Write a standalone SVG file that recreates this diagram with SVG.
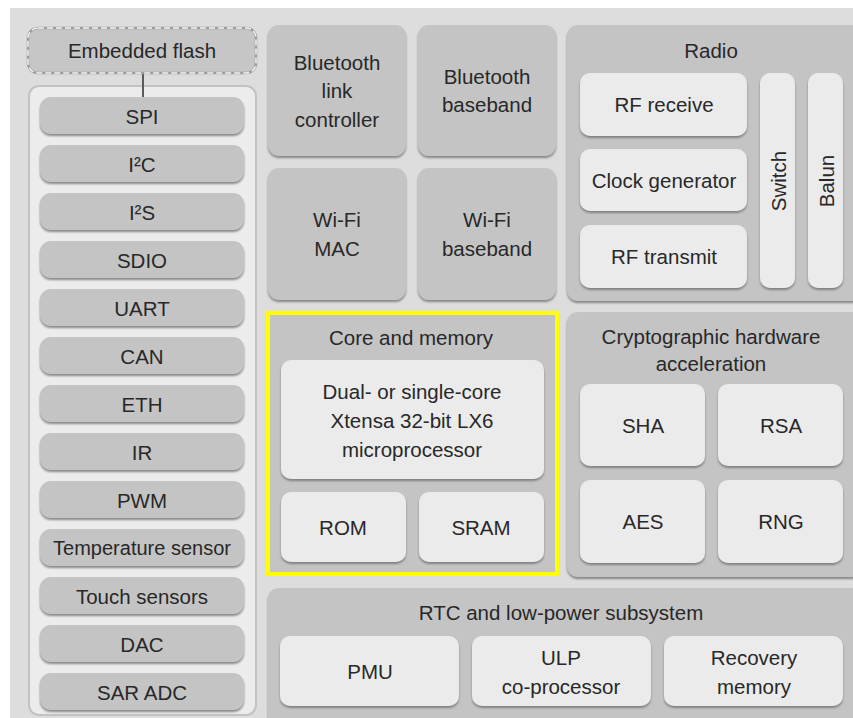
<svg xmlns="http://www.w3.org/2000/svg" width="853" height="718" viewBox="0 0 853 718">
  <defs>
    <filter id="sh" x="-10%" y="-10%" width="120%" height="130%">
      <feDropShadow dx="0" dy="2" stdDeviation="1" flood-color="#6e6e6e" flood-opacity="0.8"/>
    </filter>
  </defs>
  <style>
    text { font-family: "Liberation Sans", Arial, sans-serif; font-size: 20.5px; fill: #282828; text-anchor: middle; dominant-baseline: central; }
    .panel { fill: #c4c4c4; filter: url(#sh); }
    .box { fill: #ebebeb; filter: url(#sh); }
    .pill { fill: #c4c4c4; filter: url(#sh); }
    .conn { stroke: #5a5a5a; stroke-width: 2; fill: none; }
  </style>

  <!-- backdrop -->
  <rect x="0" y="0" width="853" height="718" fill="#ffffff"/>
  <rect x="10" y="8" width="843" height="710" fill="#dddddd"/>

  <!-- peripheral column -->
  <g id="peripherals">
    <rect x="29" y="86" width="227" height="629" rx="10" fill="#ececec" stroke="#c2c2c2" stroke-width="2"/>
  </g>

  <g id="connectors">
    <line class="conn" x1="143" y1="73" x2="143" y2="97"/>
  </g>

  <g id="embedded-flash">
    <rect x="28" y="28" width="228" height="45" rx="10" fill="#c6c6c6" stroke="#9c9c9c" stroke-width="2.5"/>
    <rect x="28" y="28" width="228" height="45" rx="10" fill="none" stroke="#f2f2f2" stroke-width="1.5" stroke-dasharray="6 3"/>
    <text x="142" y="50">Embedded flash</text>
  </g>

  <g id="spi"><rect class="pill" x="40" y="97" width="204" height="37" rx="11"/><text x="142" y="116">SPI</text></g>
  <g id="i2c"><rect class="pill" x="40" y="145" width="204" height="37" rx="11"/><text x="142" y="164">I²C</text></g>
  <g id="i2s"><rect class="pill" x="40" y="193" width="204" height="37" rx="11"/><text x="142" y="212">I²S</text></g>
  <g id="sdio"><rect class="pill" x="40" y="241" width="204" height="37" rx="11"/><text x="142" y="260">SDIO</text></g>
  <g id="uart"><rect class="pill" x="40" y="289" width="204" height="37" rx="11"/><text x="142" y="308">UART</text></g>
  <g id="can"><rect class="pill" x="40" y="337" width="204" height="37" rx="11"/><text x="142" y="356">CAN</text></g>
  <g id="eth"><rect class="pill" x="40" y="385" width="204" height="37" rx="11"/><text x="142" y="404">ETH</text></g>
  <g id="ir"><rect class="pill" x="40" y="433" width="204" height="37" rx="11"/><text x="142" y="452">IR</text></g>
  <g id="pwm"><rect class="pill" x="40" y="481" width="204" height="37" rx="11"/><text x="142" y="500">PWM</text></g>
  <g id="temperature-sensor"><rect class="pill" x="40" y="529" width="204" height="37" rx="11"/><text x="142" y="548" style="font-size:20px">Temperature sensor</text></g>
  <g id="touch-sensors"><rect class="pill" x="40" y="577" width="204" height="37" rx="11"/><text x="142" y="596">Touch sensors</text></g>
  <g id="dac"><rect class="pill" x="40" y="625" width="204" height="37" rx="11"/><text x="142" y="644">DAC</text></g>
  <g id="sar-adc"><rect class="pill" x="40" y="673" width="204" height="37" rx="11"/><text x="142" y="692">SAR ADC</text></g>

  <!-- wireless blocks -->
  <g id="bt-link-controller">
    <rect class="panel" x="268" y="25" width="138" height="131" rx="11"/>
    <text x="337" y="62">Bluetooth</text>
    <text x="337" y="90">link</text>
    <text x="337" y="119">controller</text>
  </g>
  <g id="bt-baseband">
    <rect class="panel" x="418" y="25" width="138" height="131" rx="11"/>
    <text x="487" y="76">Bluetooth</text>
    <text x="487" y="104">baseband</text>
  </g>
  <g id="wifi-mac">
    <rect class="panel" x="268" y="168" width="138" height="132" rx="11"/>
    <text x="337" y="219">Wi-Fi</text>
    <text x="337" y="248">MAC</text>
  </g>
  <g id="wifi-baseband">
    <rect class="panel" x="418" y="168" width="138" height="132" rx="11"/>
    <text x="487" y="219">Wi-Fi</text>
    <text x="487" y="248">baseband</text>
  </g>

  <!-- radio -->
  <g id="radio">
    <rect class="panel" x="567" y="25" width="296" height="276" rx="11"/>
    <text x="711" y="50">Radio</text>
  </g>
  <g id="rf-receive"><rect class="box" x="580" y="73" width="167" height="63" rx="10"/><text x="664" y="104">RF receive</text></g>
  <g id="clock-generator"><rect class="box" x="580" y="149" width="167" height="62" rx="10"/><text x="664" y="180">Clock generator</text></g>
  <g id="rf-transmit"><rect class="box" x="580" y="225" width="167" height="63" rx="10"/><text x="664" y="256">RF transmit</text></g>
  <g id="switch"><rect class="box" x="760" y="73" width="35" height="215" rx="10"/><text x="778" y="181" transform="rotate(-90 778 181)">Switch</text></g>
  <g id="balun"><rect class="box" x="808" y="73" width="35" height="215" rx="10"/><text x="826" y="181" transform="rotate(-90 826 181)">Balun</text></g>

  <!-- core and memory -->
  <g id="core-and-memory">
    <rect x="268" y="313" width="289" height="261" fill="#c4c4c4" stroke="#ffff00" stroke-width="4"/>
    <text x="411" y="337">Core and memory</text>
  </g>
  <g id="cpu">
    <rect class="box" x="281" y="360" width="263" height="119" rx="10"/>
    <text x="412" y="391">Dual- or single-core</text>
    <text x="412" y="420">Xtensa 32-bit LX6</text>
    <text x="412" y="449">microprocessor</text>
  </g>
  <g id="rom"><rect class="box" x="281" y="492" width="125" height="70" rx="10"/><text x="343" y="527">ROM</text></g>
  <g id="sram"><rect class="box" x="419" y="492" width="125" height="70" rx="10"/><text x="481" y="527">SRAM</text></g>

  <!-- crypto -->
  <g id="crypto">
    <rect class="panel" x="567" y="312" width="296" height="265" rx="11"/>
    <text x="711" y="336">Cryptographic hardware</text>
    <text x="711" y="363">acceleration</text>
  </g>
  <g id="sha"><rect class="box" x="580" y="384" width="125" height="82" rx="10"/><text x="643" y="425">SHA</text></g>
  <g id="rsa"><rect class="box" x="718" y="384" width="125" height="82" rx="10"/><text x="781" y="425">RSA</text></g>
  <g id="aes"><rect class="box" x="580" y="480" width="125" height="83" rx="10"/><text x="643" y="521">AES</text></g>
  <g id="rng"><rect class="box" x="718" y="480" width="125" height="83" rx="10"/><text x="781" y="521">RNG</text></g>

  <!-- rtc -->
  <g id="rtc">
    <rect class="panel" x="268" y="588" width="595" height="140" rx="11"/>
    <text x="561" y="612">RTC and low-power subsystem</text>
  </g>
  <g id="pmu"><rect class="box" x="280" y="636" width="179" height="70" rx="10"/><text x="370" y="671">PMU</text></g>
  <g id="ulp"><rect class="box" x="472" y="636" width="179" height="70" rx="10"/><text x="561" y="657">ULP</text><text x="561" y="686">co-processor</text></g>
  <g id="recovery-memory"><rect class="box" x="664" y="636" width="179" height="70" rx="10"/><text x="754" y="657">Recovery</text><text x="754" y="686">memory</text></g>
</svg>
